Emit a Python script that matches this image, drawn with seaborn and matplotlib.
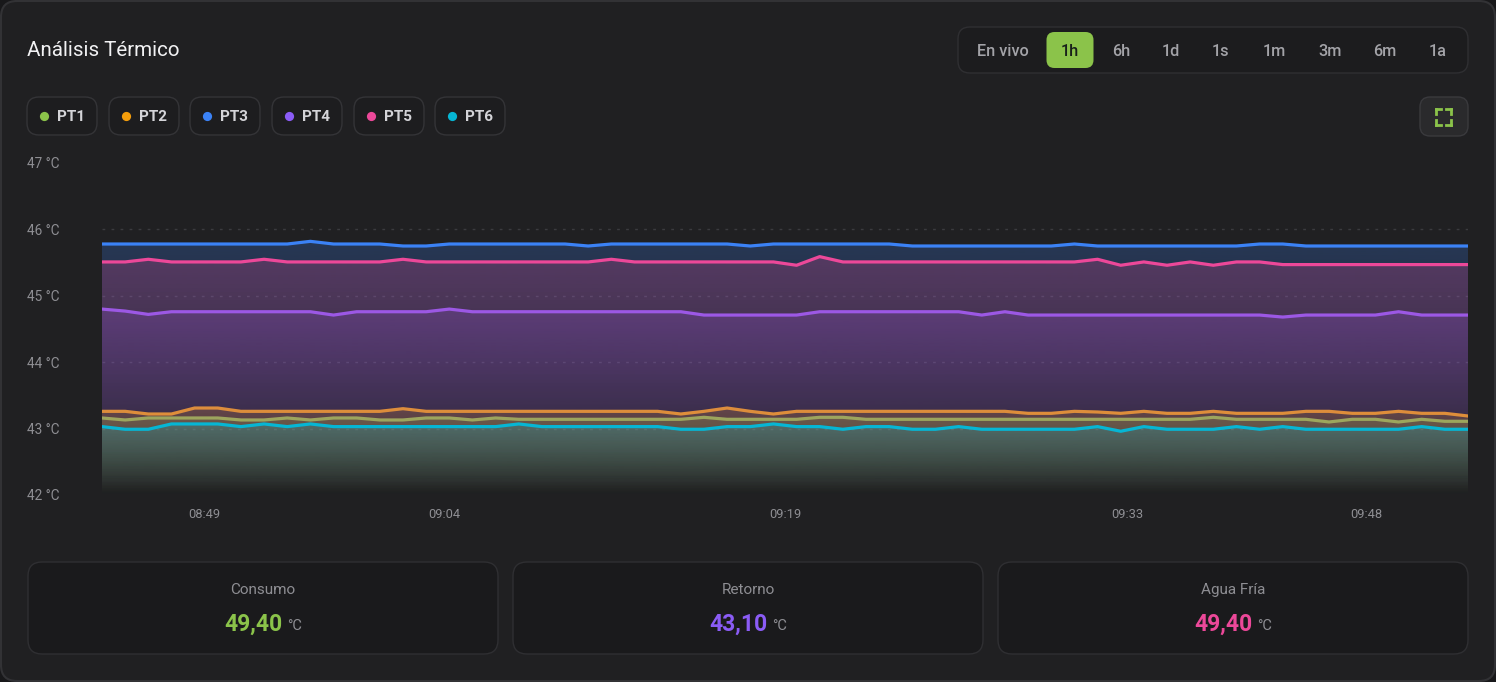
import numpy as np
import pandas as pd
import matplotlib
matplotlib.use("Agg")
import matplotlib.pyplot as plt
import seaborn as sns
from matplotlib.patches import FancyBboxPatch, Polygon, Circle
from matplotlib.colors import to_rgb

# ---------------- data ----------------
sensors = ["PT1", "PT2", "PT3", "PT4", "PT5", "PT6"]
colors = ["#8bc34a", "#f59e0b", "#3b82f6", "#8b5cf6", "#ec4899", "#06b6d4"]

pt1 = [43.16, 43.13, 43.16, 43.16, 43.16, 43.16, 43.13, 43.13, 43.16, 43.13,
       43.16, 43.16, 43.13, 43.13, 43.16, 43.16, 43.13, 43.16, 43.14, 43.14,
       43.14, 43.14, 43.14, 43.14, 43.14, 43.14, 43.17, 43.14, 43.14, 43.14,
       43.14, 43.17, 43.17, 43.14, 43.14, 43.14, 43.14, 43.14, 43.14, 43.14,
       43.14, 43.14, 43.14, 43.14, 43.14, 43.14, 43.14, 43.14, 43.17, 43.14,
       43.14, 43.14, 43.14, 43.10, 43.14, 43.14, 43.10, 43.14, 43.11, 43.11]
pt2 = [43.26, 43.26, 43.22, 43.22, 43.31, 43.31, 43.26, 43.26, 43.26, 43.26,
       43.26, 43.26, 43.26, 43.30, 43.26, 43.26, 43.26, 43.26, 43.26, 43.26,
       43.26, 43.26, 43.26, 43.26, 43.26, 43.22, 43.26, 43.31, 43.26, 43.22,
       43.26, 43.26, 43.26, 43.26, 43.26, 43.26, 43.26, 43.26, 43.26, 43.26,
       43.23, 43.23, 43.26, 43.25, 43.23, 43.26, 43.23, 43.23, 43.26, 43.23,
       43.23, 43.23, 43.26, 43.26, 43.23, 43.23, 43.26, 43.23, 43.23, 43.19]
pt3 = [45.78, 45.78, 45.78, 45.78, 45.78, 45.78, 45.78, 45.78, 45.78, 45.82,
       45.78, 45.78, 45.78, 45.75, 45.75, 45.78, 45.78, 45.78, 45.78, 45.78,
       45.78, 45.75, 45.78, 45.78, 45.78, 45.78, 45.78, 45.78, 45.75, 45.78,
       45.78, 45.78, 45.78, 45.78, 45.78, 45.75, 45.75, 45.75, 45.75, 45.75,
       45.75, 45.75, 45.78, 45.75, 45.75, 45.75, 45.75, 45.75, 45.75, 45.75,
       45.78, 45.78, 45.75, 45.75, 45.75, 45.75, 45.75, 45.75, 45.75, 45.75]
pt4 = [44.80, 44.77, 44.72, 44.76, 44.76, 44.76, 44.76, 44.76, 44.76, 44.76,
       44.71, 44.76, 44.76, 44.76, 44.76, 44.80, 44.76, 44.76, 44.76, 44.76,
       44.76, 44.76, 44.76, 44.76, 44.76, 44.76, 44.71, 44.71, 44.71, 44.71,
       44.71, 44.76, 44.76, 44.76, 44.76, 44.76, 44.76, 44.76, 44.71, 44.76,
       44.71, 44.71, 44.71, 44.71, 44.71, 44.71, 44.71, 44.71, 44.71, 44.71,
       44.71, 44.68, 44.71, 44.71, 44.71, 44.71, 44.76, 44.71, 44.71, 44.71]
pt5 = [45.51, 45.51, 45.55, 45.51, 45.51, 45.51, 45.51, 45.55, 45.51, 45.51,
       45.51, 45.51, 45.51, 45.55, 45.51, 45.51, 45.51, 45.51, 45.51, 45.51,
       45.51, 45.51, 45.55, 45.51, 45.51, 45.51, 45.51, 45.51, 45.51, 45.51,
       45.46, 45.59, 45.51, 45.51, 45.51, 45.51, 45.51, 45.51, 45.51, 45.51,
       45.51, 45.51, 45.51, 45.55, 45.46, 45.51, 45.46, 45.51, 45.46, 45.51,
       45.51, 45.47, 45.47, 45.47, 45.47, 45.47, 45.47, 45.47, 45.47, 45.47]
pt6 = [43.03, 42.99, 42.99, 43.07, 43.07, 43.07, 43.03, 43.07, 43.03, 43.07,
       43.03, 43.03, 43.03, 43.03, 43.03, 43.03, 43.03, 43.03, 43.07, 43.03,
       43.03, 43.03, 43.03, 43.03, 43.03, 42.99, 42.99, 43.03, 43.03, 43.07,
       43.03, 43.03, 42.99, 43.03, 43.03, 42.99, 42.99, 43.03, 42.99, 42.99,
       42.99, 42.99, 42.99, 43.03, 42.96, 43.03, 42.99, 42.99, 42.99, 43.03,
       42.99, 43.03, 42.99, 42.99, 42.99, 42.99, 42.99, 43.03, 42.99, 42.99]
series = [pt1, pt2, pt3, pt4, pt5, pt6]

time_labels = ["08:49", "09:04", "09:19", "09:33", "09:48"]
time_label_idx = [4.4, 14.8, 29.5, 44.3, 54.6]
y_ticks = [42, 43, 44, 45, 46, 47]
y_labels = ["42 °C", "43 °C", "44 °C", "45 °C", "46 °C", "47 °C"]

ranges = ["En vivo", "1h", "6h", "1d", "1s", "1m", "3m", "6m", "1a"]
active_range = "1h"

card_titles = ["Consumo", "Retorno", "Agua Fría"]
card_values = ["49,40", "43,10", "49,40"]
card_colors = ["#8bc34a", "#8b5cf6", "#ec4899"]

n = len(pt1)
idx = np.arange(n)
df = pd.DataFrame({
    "idx": np.tile(idx, len(sensors)),
    "temp": np.concatenate(series),
    "sensor": np.repeat(sensors, n),
})

# ---------------- style ----------------
BG = "#202022"
sns.set_theme(style="dark")
plt.rcParams['font.family'] = ['Roboto', 'DejaVu Sans']

W, H = 1496, 682
fig = plt.figure(figsize=(W / 100, H / 100), dpi=100, facecolor="#18181a")

# overlay axes in pixel coordinates
ov = fig.add_axes([0, 0, 1, 1], zorder=0)
ov.set_xlim(0, W)
ov.set_ylim(H, 0)
ov.axis("off")


def rbox(x, y, w, h, r, fc, ec, lw=1.0):
    p = FancyBboxPatch((x, y), w, h, boxstyle=f"round,pad=0,rounding_size={r}",
                       facecolor=fc, edgecolor=ec, linewidth=lw)
    ov.add_patch(p)
    return p


rbox(1, 1, W - 2, H - 2, 16, BG, "#323235", 1.5)

# title
ov.text(27, 50, "Análisis Térmico", ha="left", va="center", fontsize=14.8,
        color="#f2f2f4")

# range selector
rbox(958, 27, 510, 46, 12, "#1c1c1e", "#2f2f32", 1.0)
range_x = [1003, 1070, 1121, 1171, 1221, 1274, 1330, 1385, 1438]
for lab, cx in zip(ranges, range_x):
    if lab == active_range:
        rbox(cx - 23.5, 32, 47, 36, 8, "#8bc34a", "none")
        ov.text(cx, 51, lab, ha="center", va="center", fontsize=11.7,
                fontweight="medium", color="#18201a")
    else:
        ov.text(cx, 51, lab, ha="center", va="center", fontsize=11.7,
                fontweight="medium", color="#a3a3a8")

# fullscreen button
rbox(1420, 97, 48, 39, 10, "#2a2a2c", "#3a3a3d", 1.0)
g = "#8bc34a"
x0, x1, y0, y1, L = 1436.5, 1451.5, 108.5, 124.5, 5
for (cx, cy, dx, dy) in [(x0, y0, 1, 1), (x1, y0, -1, 1), (x0, y1, 1, -1), (x1, y1, -1, -1)]:
    ov.plot([cx, cx + dx * L], [cy, cy], color=g, lw=2.0, solid_capstyle="projecting")
    ov.plot([cx, cx], [cy, cy + dy * L], color=g, lw=2.0, solid_capstyle="projecting")

# legend pills
pill_x = [27, 109, 190, 272, 354, 435]
for name, col, px in zip(sensors, colors, pill_x):
    rbox(px, 97, 70, 38, 12, "#1d1d1f", "#343437", 1.0)
    ov.add_patch(Circle((px + 17.5, 116.5), 4.6, facecolor=col, edgecolor="none"))
    ov.text(px + 30, 117, name, ha="left", va="center", fontsize=11,
            fontweight="bold", color="#d4d4d8")

# bottom cards
card_x = [28, 513, 998]
for cx0, t, v, c in zip(card_x, card_titles, card_values, card_colors):
    rbox(cx0, 562, 470, 92, 14, "#1a1a1c", "#2f2f32", 1.0)
    cx = cx0 + 235
    ov.text(cx, 590, t, ha="center", va="center", fontsize=11, color="#8e8e93")
    ov.text(cx + 19, 631, v, ha="right", va="baseline", fontsize=16.5,
            fontweight="bold", color=c)
    ov.text(cx + 24, 630, "°C", ha="left", va="baseline", fontsize=10.5,
            color="#8e8e93")

# ---------------- chart ----------------
ax = fig.add_axes([102 / W, 1 - 495 / H, 1366 / W, 332 / H], zorder=1)
ax.set_facecolor("none")

YMIN, YMAX = 42, 47
A = 0.24
for t in y_ticks[1:-1]:
    ax.axhline(t, color="#3b3b3f", lw=1.0, ls=(0, (2, 4.5)), zorder=0.5)

for i, (name, col) in enumerate(zip(sensors, colors)):
    sub = df[df["sensor"] == name]
    vals = sub["temp"].to_numpy()
    top = vals.max()
    rgb = to_rgb(col)
    grad = np.zeros((256, 1, 4))
    grad[:, 0, 0], grad[:, 0, 1], grad[:, 0, 2] = rgb
    grad[:, 0, 3] = A * np.linspace(0, 1, 256)
    z = 1 + i
    im = ax.imshow(grad, extent=[idx[0], idx[-1], YMIN, top], origin="lower",
                   aspect="auto", interpolation="bilinear", zorder=z)
    verts = [(idx[0], YMIN)] + list(zip(sub["idx"], vals)) + [(idx[-1], YMIN)]
    poly = Polygon(verts, closed=True, transform=ax.transData,
                   facecolor="none", edgecolor="none")
    ax.add_patch(poly)
    im.set_clip_path(poly)
    sns.lineplot(data=sub, x="idx", y="temp", color=col, lw=2.3, ax=ax,
                 zorder=z + 0.5, legend=False, solid_joinstyle="round",
                 solid_capstyle="round")

ax.set_xlim(idx[0], idx[-1])
ax.set_ylim(YMIN, YMAX)
ax.set_xticks(time_label_idx)
ax.set_xticklabels(time_labels)
ax.set_yticks(y_ticks)
ax.set_yticklabels(y_labels)
ax.tick_params(axis="x", length=0, pad=9, labelsize=9.3, labelcolor="#8e8e93")
ax.tick_params(axis="y", length=0, labelsize=9.8, labelcolor="#8e8e93")
for lab in ax.get_yticklabels():
    lab.set_horizontalalignment("left")
ax.tick_params(axis="y", pad=54)
ax.set_xlabel("")
ax.set_ylabel("")
ax.grid(False)
for s in ax.spines.values():
    s.set_visible(False)

fig.savefig("out.png", dpi=100, facecolor=fig.get_facecolor())
